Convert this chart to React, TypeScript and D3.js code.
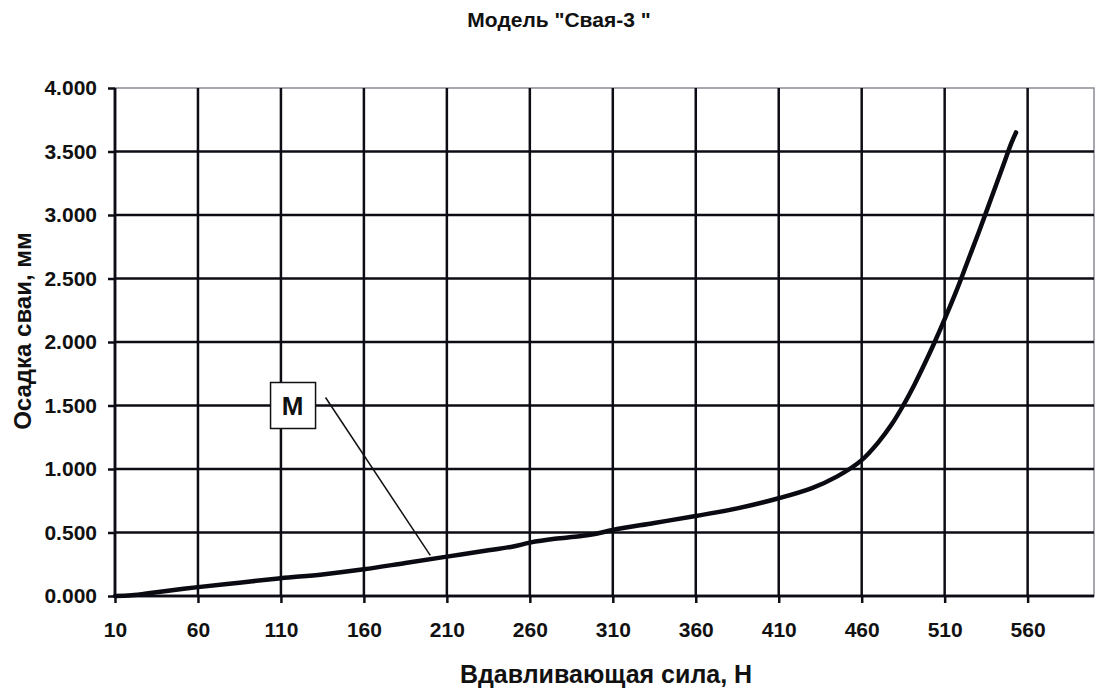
import React, { useEffect, useRef } from 'react'
import * as d3 from 'd3'

const forceValues = [
  10, 20, 35, 60, 85, 110, 135, 160, 185, 210, 235, 250, 260, 275, 290, 300,
  310, 335, 360, 385, 410, 430, 445, 460, 470, 478, 485, 492, 498, 504, 510,
  517, 524, 531, 538, 545, 550, 553,
]
const settlementValues = [
  0, 0.005, 0.03, 0.07, 0.105, 0.14, 0.17, 0.21, 0.26, 0.31, 0.36, 0.39, 0.42,
  0.45, 0.47, 0.49, 0.52, 0.575, 0.63, 0.69, 0.77, 0.85, 0.94, 1.07, 1.21,
  1.35, 1.5, 1.67, 1.83, 2.0, 2.18, 2.4, 2.64, 2.88, 3.13, 3.38, 3.56, 3.65,
]
const xTicks = [10, 60, 110, 160, 210, 260, 310, 360, 410, 460, 510, 560]
const yTicks = [0, 0.5, 1, 1.5, 2, 2.5, 3, 3.5, 4]

const title = 'Модель "Свая-3 "'
const xTitle = 'Вдавливающая сила, Н'
const yTitle = 'Осадка сваи, мм'
const markerLabel = 'M'
// label box centre and the curve point it points to, in data units
const markerBox = { x: 117, y: 1.5 }
const markerTarget = { x: 200, y: 0.32 }

const App = () => {
  const ref = useRef<SVGSVGElement>(null)

  useEffect(() => {
    const width = 1096
    const height = 691
    const margins = { top: 88, right: 2, bottom: 95, left: 115 }
    const svg = d3.select(ref.current)
    svg.selectAll('*').remove()

    const x = d3
      .scaleLinear()
      .domain([10, 600])
      .range([margins.left, width - margins.right])
    const y = d3
      .scaleLinear()
      .domain([0, 4])
      .range([height - margins.bottom, margins.top])

    const font = 'Arial, "Liberation Sans", sans-serif'
    const ink = '#0c0c14'

    // plot border
    svg
      .append('rect')
      .attr('x', x(10))
      .attr('y', y(4))
      .attr('width', x(600) - x(10))
      .attr('height', y(0) - y(4))
      .attr('fill', 'white')
      .attr('stroke', '#8a8a95')
      .attr('stroke-width', 1.5)

    // grid
    svg
      .append('g')
      .selectAll('line')
      .data(yTicks.filter((d) => d < 4))
      .join('line')
      .attr('x1', x(10))
      .attr('x2', x(600))
      .attr('y1', (d) => y(d))
      .attr('y2', (d) => y(d))
      .attr('stroke', ink)
      .attr('stroke-width', 2.5)

    svg
      .append('g')
      .selectAll('line')
      .data(xTicks)
      .join('line')
      .attr('x1', (d) => x(d))
      .attr('x2', (d) => x(d))
      .attr('y1', y(4))
      .attr('y2', y(0))
      .attr('stroke', ink)
      .attr('stroke-width', 2.5)

    // axes
    const axisLeft = d3
      .axisLeft(y)
      .tickValues(yTicks)
      .tickFormat(d3.format('.3f'))
      .tickSize(7)
      .tickPadding(11)
    const yAxis = svg
      .append('g')
      .attr('transform', `translate(${x(10)},0)`)
      .call(axisLeft)

    const axisBottom = d3
      .axisBottom(x)
      .tickValues(xTicks)
      .tickFormat(d3.format('d'))
      .tickSize(7)
      .tickPadding(19)
    const xAxis = svg
      .append('g')
      .attr('transform', `translate(0,${y(0)})`)
      .call(axisBottom)

    ;[xAxis, yAxis].forEach((g) => {
      g.select('.domain').attr('stroke', ink).attr('stroke-width', 2.5)
      g.selectAll('.tick line').attr('stroke', ink).attr('stroke-width', 2.5)
      g.selectAll('.tick text')
        .attr('fill', '#111')
        .style('font-family', font)
        .style('font-weight', 'bold')
        .style('font-size', '21px')
    })
    yAxis.select('.domain').attr('d', `M0,${y(0)}V${y(4)}`)
    xAxis.select('.domain').attr('d', `M${x(10)},0H${x(600)}`)

    // curve
    const data = forceValues.map((f, i) => ({ x: f, y: settlementValues[i] }))
    svg
      .append('path')
      .datum(data)
      .attr('fill', 'none')
      .attr('stroke', '#0a0a12')
      .attr('stroke-width', 4.5)
      .attr('stroke-linejoin', 'round')
      .attr('stroke-linecap', 'round')
      .attr(
        'd',
        d3
          .line<{ x: number; y: number }>()
          .x((d) => x(d.x))
          .y((d) => y(d.y))
          .curve(d3.curveCatmullRom.alpha(0.5))
      )

    // marker label
    const bx = x(markerBox.x)
    const by = y(markerBox.y)
    svg
      .append('line')
      .attr('x1', bx + 33)
      .attr('y1', by - 8)
      .attr('x2', x(markerTarget.x))
      .attr('y2', y(markerTarget.y))
      .attr('stroke', '#111')
      .attr('stroke-width', 1.5)
    svg
      .append('rect')
      .attr('x', bx - 22)
      .attr('y', by - 23)
      .attr('width', 45)
      .attr('height', 46)
      .attr('fill', 'white')
      .attr('stroke', '#111')
      .attr('stroke-width', 1.5)
    svg
      .append('text')
      .attr('x', bx)
      .attr('y', by + 9)
      .attr('text-anchor', 'middle')
      .style('font-family', font)
      .style('font-weight', 'bold')
      .style('font-size', '26px')
      .attr('fill', '#111')
      .text(markerLabel)

    // titles
    svg
      .append('text')
      .attr('x', 559)
      .attr('y', 27)
      .attr('text-anchor', 'middle')
      .style('font-family', font)
      .style('font-weight', 'bold')
      .style('font-size', '21px')
      .attr('fill', '#111')
      .text(title)

    svg
      .append('text')
      .attr('x', 606)
      .attr('y', 683)
      .attr('text-anchor', 'middle')
      .style('font-family', font)
      .style('font-weight', 'bold')
      .style('font-size', '25px')
      .attr('fill', '#111')
      .text(xTitle)

    svg
      .append('text')
      .attr('transform', `translate(31,331) rotate(-90)`)
      .attr('text-anchor', 'middle')
      .style('font-family', font)
      .style('font-weight', 'bold')
      .style('font-size', '24px')
      .attr('fill', '#111')
      .text(yTitle)
  }, [])

  return (
    <svg
      ref={ref}
      width={1096}
      height={691}
      style={{ position: 'absolute', left: 0, top: 0, background: 'white' }}
    />
  )
}

export default App
